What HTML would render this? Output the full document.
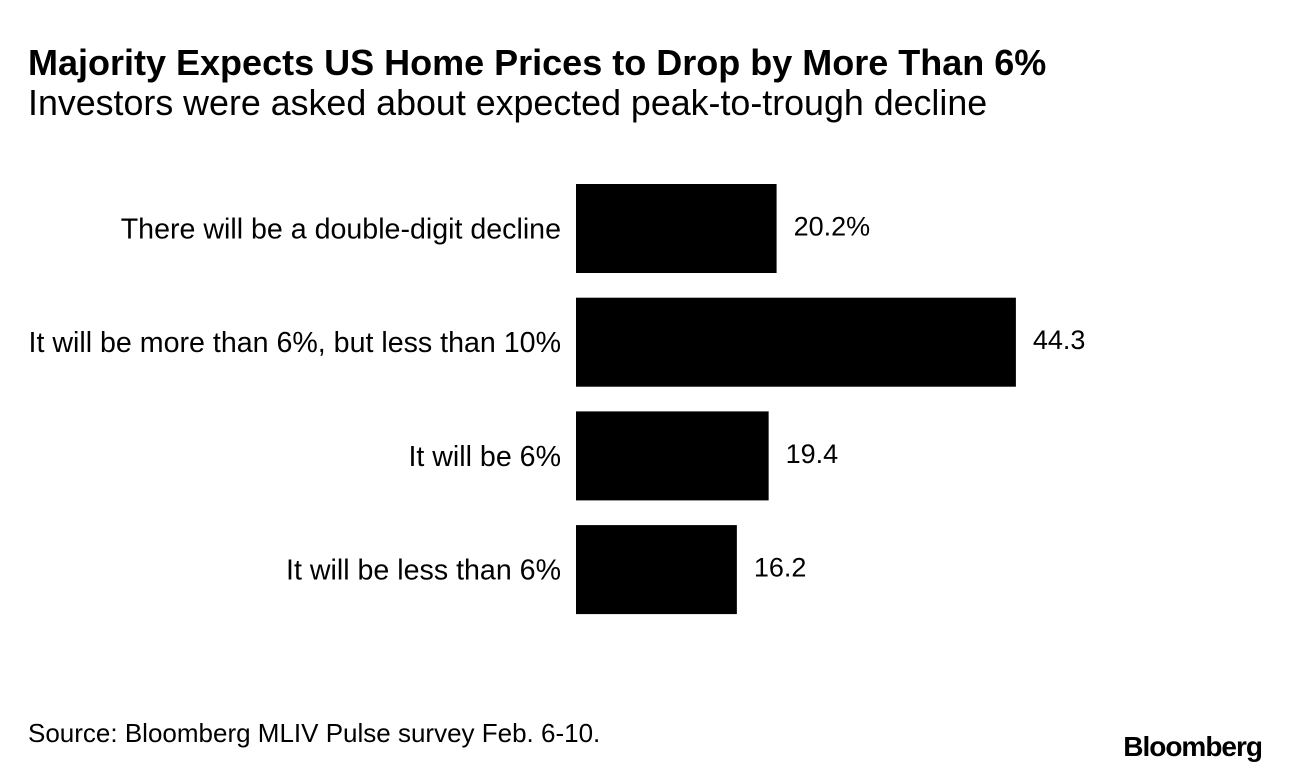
<!DOCTYPE html>
<html><head><meta charset="utf-8"><style>
body{margin:0;width:1289px;height:772px;background:#fff;font-family:"Liberation Sans",sans-serif;position:relative;overflow:hidden}
.t{position:absolute;white-space:nowrap;color:#000;line-height:1}
</style></head><body>
<div class="t" style="left:28px;top:45px;font-size:36px;font-weight:bold;letter-spacing:0px">Majority Expects US Home Prices to Drop by More Than 6%</div>
<div class="t" style="left:28px;top:86px;font-size:35.8px">Investors were asked about expected peak-to-trough decline</div>
<svg id="chart" width="1289" height="660" style="position:absolute;left:0;top:0"></svg>
<div class="t" style="left:28px;top:720px;font-size:26px">Source: Bloomberg MLIV Pulse survey Feb. 6-10.</div>
<div class="t" style="right:27px;top:733px;font-size:28px;font-weight:bold;letter-spacing:-1px">Bloomberg</div>
<script>
const categories=["There will be a double-digit decline","It will be more than 6%, but less than 10%","It will be 6%","It will be less than 6%"];
const values=[20.2,44.3,19.4,16.2];
const valueLabels=["20.2%","44.3","19.4","16.2"];
const svg=document.getElementById('chart');
const NS="http://www.w3.org/2000/svg";
const x0=576,scale=9.93;
function xs(v){return x0+v*scale;}
function ys(i){return 184+i*113.7;}
const bh=89;
categories.forEach((c,i)=>{
 const r=document.createElementNS(NS,'rect');
 r.setAttribute('x',x0);r.setAttribute('y',ys(i));r.setAttribute('width',xs(values[i])-x0);r.setAttribute('height',bh);r.setAttribute('fill','#000');
 
 
 svg.appendChild(r);
 const l=document.createElementNS(NS,'text');
 l.setAttribute('x',561);l.setAttribute('y',ys(i)+bh/2+10);l.setAttribute('text-anchor','end');l.setAttribute('font-size','28.6');l.setAttribute('font-family','Liberation Sans, sans-serif');
 l.textContent=c;
 
 
 svg.appendChild(l);
 const v=document.createElementNS(NS,'text');
 v.setAttribute('x',xs(values[i])+17);v.setAttribute('y',ys(i)+bh/2+7);v.setAttribute('font-size','27');v.setAttribute('font-family','Liberation Sans, sans-serif');
 v.textContent=valueLabels[i];
 
 
 svg.appendChild(v);
});
</script>
</body></html>
